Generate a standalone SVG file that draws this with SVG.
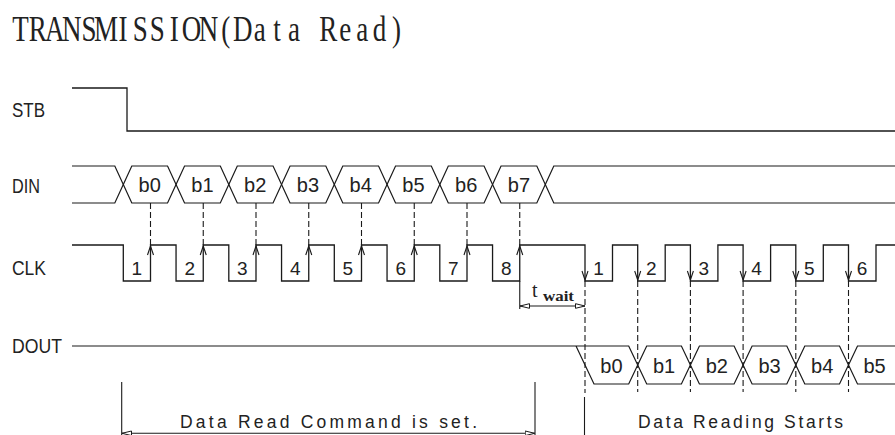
<svg xmlns="http://www.w3.org/2000/svg" width="895" height="435" viewBox="0 0 895 435">
<style>
.sig{fill:none;stroke:#1a1a1a;stroke-width:1.3;stroke-linejoin:miter}
.hex{fill:none;stroke:#1a1a1a;stroke-width:1.2}
.dash{fill:none;stroke:#1a1a1a;stroke-width:1.1;stroke-dasharray:6 3}
.ln{fill:none;stroke:#1a1a1a;stroke-width:1.1}
.arr{fill:none;stroke:#1a1a1a;stroke-width:1.1}
.lbl{font-family:"Liberation Sans",Arial,sans-serif;font-size:20px;fill:#222}
.bit{font-family:"Liberation Sans",Arial,sans-serif;font-size:20px;fill:#222;text-anchor:middle}
.num{font-family:"Liberation Sans",Arial,sans-serif;font-size:19px;fill:#222;text-anchor:middle}
.note{font-family:"Liberation Sans",Arial,sans-serif;font-size:17.5px;fill:#222}
.title{font-family:"Liberation Serif","DejaVu Serif",serif;font-size:36px;fill:#222;text-anchor:middle}
</style>
<defs>
<path id="up" d="M-3,9 L0,0 L3,9"/>
<path id="dn" d="M-3,-9 L0,0 L3,-9"/>
<marker id="dimA" viewBox="0 0 10 6" refX="10" refY="3" markerWidth="10" markerHeight="6" markerUnits="userSpaceOnUse" orient="auto-start-reverse">
<path d="M10,3 L0.5,0.7 L0.5,5.3 Z" fill="#fff" stroke="#1a1a1a" stroke-width="1"/>
</marker>
</defs>

<text id="title" class="title" transform="scale(0.75,1)" y="41" x="27.40 50.19 72.97 95.76 118.55 141.34 164.12 186.91 209.70 232.48 255.27 278.06 300.84 323.63 346.42 369.21 391.99 414.78 437.57 460.35 483.14 505.93 528.71">TRANSMISSION(Data Read)</text>

<g id="labels">
<text class="lbl" x="12" y="117" textLength="33" lengthAdjust="spacingAndGlyphs">STB</text>
<text class="lbl" x="12" y="193" textLength="28" lengthAdjust="spacingAndGlyphs">DIN</text>
<text class="lbl" x="12" y="275" textLength="34" lengthAdjust="spacingAndGlyphs">CLK</text>
<text class="lbl" x="12" y="353" textLength="50" lengthAdjust="spacingAndGlyphs">DOUT</text>
</g>

<g id="stb">
<path class="sig" d="M72,88 H127 V131 H895"/>
</g>

<g id="din">
<path class="hex" d="M72,166 H114.8 L123.3,184.5 L114.8,203 H72"/>
<polygon class="hex" points="123.3,184.5 131.8,166 167.55,166 176.05,184.5 167.55,203 131.8,203"/>
<polygon class="hex" points="176.05,184.5 184.55,166 220.3,166 228.8,184.5 220.3,203 184.55,203"/>
<polygon class="hex" points="228.8,184.5 237.3,166 273.05,166 281.55,184.5 273.05,203 237.3,203"/>
<polygon class="hex" points="281.55,184.5 290.05,166 325.8,166 334.3,184.5 325.8,203 290.05,203"/>
<polygon class="hex" points="334.3,184.5 342.8,166 378.55,166 387.05,184.5 378.55,203 342.8,203"/>
<polygon class="hex" points="387.05,184.5 395.55,166 431.3,166 439.8,184.5 431.3,203 395.55,203"/>
<polygon class="hex" points="439.8,184.5 448.3,166 484.05,166 492.55,184.5 484.05,203 448.3,203"/>
<polygon class="hex" points="492.55,184.5 501.05,166 536.8,166 545.3,184.5 536.8,203 501.05,203"/>
<path class="hex" d="M895,166 H553.8 L545.3,184.5 L553.8,203 H895"/>
<text class="bit" x="149.7" y="192">b0</text>
<text class="bit" x="202.4" y="192">b1</text>
<text class="bit" x="255.2" y="192">b2</text>
<text class="bit" x="307.9" y="192">b3</text>
<text class="bit" x="360.7" y="192">b4</text>
<text class="bit" x="413.4" y="192">b5</text>
<text class="bit" x="466.2" y="192">b6</text>
<text class="bit" x="518.9" y="192">b7</text>
</g>

<g id="clk">
<path class="sig" d="M72,245 H123.3 V281 H150.5 V245 H176.05 V281 H203.25 V245 H228.8 V281 H256 V245 H281.55 V281 H308.75 V245 H334.3 V281 H361.5 V245 H387.05 V281 H414.25 V245 H439.8 V281 H467 V245 H492.55 V281 H519.75 V245 H585 V281 H612.5 V245 H637.7 V281 H665.2 V245 H690.4 V281 H717.9 V245 H743.1 V281 H770.6 V245 H795.8 V281 H823.3 V245 H848.5 V281 H876 V245 H895"/>
<g class="arr">
<use href="#up" x="150.5" y="246"/>
<use href="#up" x="203.25" y="246"/>
<use href="#up" x="256" y="246"/>
<use href="#up" x="308.75" y="246"/>
<use href="#up" x="361.5" y="246"/>
<use href="#up" x="414.25" y="246"/>
<use href="#up" x="467" y="246"/>
<use href="#up" x="519.75" y="246"/>
<use href="#dn" x="585" y="280"/>
<use href="#dn" x="637.7" y="280"/>
<use href="#dn" x="690.4" y="280"/>
<use href="#dn" x="743.1" y="280"/>
<use href="#dn" x="795.8" y="280"/>
<use href="#dn" x="848.5" y="280"/>
</g>
<text class="num" x="136.9" y="275">1</text>
<text class="num" x="189.7" y="275">2</text>
<text class="num" x="242.4" y="275">3</text>
<text class="num" x="295.2" y="275">4</text>
<text class="num" x="347.9" y="275">5</text>
<text class="num" x="400.7" y="275">6</text>
<text class="num" x="453.4" y="275">7</text>
<text class="num" x="506.2" y="275">8</text>
<text class="num" x="598.5" y="275">1</text>
<text class="num" x="651.2" y="275">2</text>
<text class="num" x="703.9" y="275">3</text>
<text class="num" x="756.6" y="275">4</text>
<text class="num" x="809.3" y="275">5</text>
<text class="num" x="862" y="275">6</text>
</g>

<g id="dout">
<path class="hex" d="M72,346 H628.7 L637.7,365 L628.7,384 H594 L576,346"/>
<polygon class="hex" points="637.7,365 646.7,346 681.4,346 690.4,365 681.4,384 646.7,384"/>
<polygon class="hex" points="690.4,365 699.4,346 734.1,346 743.1,365 734.1,384 699.4,384"/>
<polygon class="hex" points="743.1,365 752.1,346 786.8,346 795.8,365 786.8,384 752.1,384"/>
<polygon class="hex" points="795.8,365 804.8,346 839.5,346 848.5,365 839.5,384 804.8,384"/>
<path class="hex" d="M895,346 H857.5 L848.5,365 L857.5,384 H895"/>
<text class="bit" x="611.4" y="373">b0</text>
<text class="bit" x="664.1" y="373">b1</text>
<text class="bit" x="716.8" y="373">b2</text>
<text class="bit" x="769.5" y="373">b3</text>
<text class="bit" x="822.2" y="373">b4</text>
<text class="bit" x="874.5" y="373">b5</text>
</g>

<g id="connectors">
<line class="dash" x1="150.5" y1="203" x2="150.5" y2="245"/>
<line class="dash" x1="203.25" y1="203" x2="203.25" y2="245"/>
<line class="dash" x1="256" y1="203" x2="256" y2="245"/>
<line class="dash" x1="308.75" y1="203" x2="308.75" y2="245"/>
<line class="dash" x1="361.5" y1="203" x2="361.5" y2="245"/>
<line class="dash" x1="414.25" y1="203" x2="414.25" y2="245"/>
<line class="dash" x1="467" y1="203" x2="467" y2="245"/>
<line class="dash" x1="519.75" y1="203" x2="519.75" y2="245"/>
<line class="dash" x1="585" y1="281" x2="585" y2="393"/>
<line class="dash" x1="637.7" y1="281" x2="637.7" y2="392"/>
<line class="dash" x1="690.4" y1="281" x2="690.4" y2="392"/>
<line class="dash" x1="743.1" y1="281" x2="743.1" y2="392"/>
<line class="dash" x1="795.8" y1="281" x2="795.8" y2="392"/>
<line class="dash" x1="848.5" y1="281" x2="848.5" y2="392"/>
</g>

<g id="twait">
<line class="ln" x1="519.75" y1="281" x2="519.75" y2="309"/>
<line class="ln" x1="520" y1="306" x2="585" y2="306" marker-start="url(#dimA)" marker-end="url(#dimA)"/>
<text x="532" y="297" font-family="Liberation Serif,serif" font-size="20" fill="#222">t</text>
<text x="543" y="301" font-family="Liberation Serif,serif" font-size="14" font-weight="bold" fill="#222" textLength="31" lengthAdjust="spacingAndGlyphs">wait</text>
</g>

<g id="cmdset">
<line class="ln" x1="121.7" y1="382" x2="121.7" y2="435"/>
<line class="ln" x1="535" y1="382" x2="535" y2="435"/>
<line class="ln" x1="122" y1="433.3" x2="534.7" y2="433.3" marker-start="url(#dimA)" marker-end="url(#dimA)"/>
<text class="note" x="180" y="428" textLength="297" lengthAdjust="spacing">Data Read Command is set.</text>
</g>

<g id="readstart">
<line class="ln" x1="584.5" y1="397" x2="584.5" y2="435"/>
<text class="note" x="638" y="428" textLength="205" lengthAdjust="spacing">Data Reading Starts</text>
</g>
</svg>
